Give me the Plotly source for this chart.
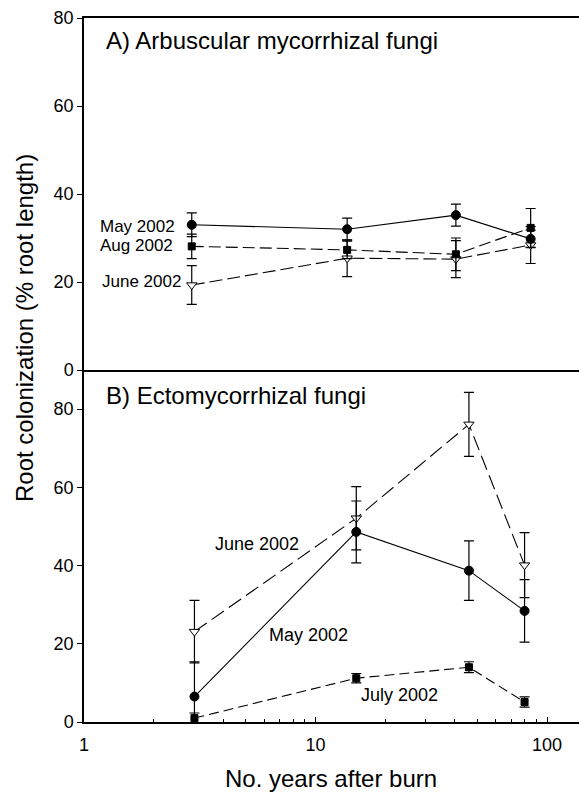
import plotly.graph_objects as go
from plotly.subplots import make_subplots

# ---- data ----
years_A = [2.92, 13.7, 40.4, 85]
may_A = [33.0, 32.0, 35.2, 29.8]
may_A_err = [2.7, 2.5, 2.5, 2.0]
aug_A = [28.1, 27.3, 26.3, 32.3]
aug_A_err = [2.8, 2.0, 3.7, 4.4]
june_A = [19.3, 25.4, 25.2, 28.4]
june_A_err = [4.4, 4.2, 4.2, 4.2]

years_B = [3, 15, 46, 80]
june_B = [23.1, 52.1, 76.1, 40.1]
june_B_err = [8.0, 8.1, 8.2, 8.3]
may_B = [6.5, 48.6, 38.7, 28.4]
may_B_err = [8.9, 7.9, 7.6, 8.0]
july_B = [1.0, 11.2, 14.0, 5.1]
july_B_err = [1.3, 1.2, 1.4, 1.3]

y_ticks = [0, 20, 40, 60, 80]
x_ticks = [1, 10, 100]
x_minor = [2, 3, 4, 5, 6, 7, 8, 9, 20, 30, 40, 50, 60, 70, 80, 90]

FONT = "Liberation Sans, Arial, Helvetica, sans-serif"
W, H = 579, 793
ML, MR, MT, MB = 84, 0, 18, 71

fig = make_subplots(rows=2, cols=1, vertical_spacing=0.0, shared_xaxes=False)


def add_series(x, y, err, row, symbol, fill, dash, size):
    fig.add_trace(go.Scatter(
        x=x, y=y, mode="lines+markers",
        line=dict(color="black", width=1.1, dash=dash),
        marker=dict(symbol=symbol, size=size, color=fill,
                    line=dict(color="black", width=1)),
        error_y=dict(type="data", array=err, visible=True,
                     color="black", thickness=1.2, width=5),
        showlegend=False, hoverinfo="skip",
    ), row=row, col=1)


add_series(years_A, june_A, june_A_err, 1, "triangle-down", "white", "13px,5px", 9)
add_series(years_A, aug_A, aug_A_err, 1, "square", "black", "12px,5px", 7)
add_series(years_A, may_A, may_A_err, 1, "circle", "black", "solid", 9)

add_series(years_B, june_B, june_B_err, 2, "triangle-down", "white", "15px,6px", 9)
add_series(years_B, july_B, july_B_err, 2, "square", "black", "10px,5px", 7)
add_series(years_B, may_B, may_B_err, 2, "circle", "black", "solid", 9)

xrange = [0, (W - ML) / 231.5]

fig.update_xaxes(type="log", range=xrange, showgrid=False, zeroline=False,
                 showline=True, linecolor="black", linewidth=1.5)
fig.update_xaxes(row=1, col=1, showticklabels=False, ticks="", mirror=True)
fig.update_xaxes(row=2, col=1, tickmode="array", tickvals=x_ticks,
                 ticktext=[str(v) for v in x_ticks], ticks="inside",
                 ticklen=5, tickwidth=1, tickcolor="black",
                 ticklabelstandoff=6,
                 minor=dict(tickmode="array", tickvals=x_minor, ticks="inside",
                            ticklen=3, tickwidth=1, tickcolor="black"),
                 tickfont=dict(family=FONT, size=18, color="black"))

fig.update_yaxes(showgrid=False, zeroline=False, showline=True,
                 linecolor="black", linewidth=1.5, ticks="outside",
                 ticklen=5, tickwidth=1, tickcolor="black",
                 tickmode="array", tickvals=y_ticks,
                 tickfont=dict(family=FONT, size=18, color="black"))
fig.update_yaxes(row=1, col=1, range=[0, 80])
fig.update_yaxes(row=2, col=1, range=[0, 90])

fig.update_layout(
    width=W, height=H,
    margin=dict(l=ML, r=MR, t=MT, b=MB, autoexpand=False),
    paper_bgcolor="white", plot_bgcolor="white",
    font=dict(family=FONT, color="black"),
    hovermode=False,
)
fig.update_layout(yaxis=dict(domain=[0.5, 1.0]), yaxis2=dict(domain=[0.0, 0.5]))

anns = [
    # panel titles
    dict(text="A) Arbuscular mycorrhizal fungi", xref="x", yref="y",
         x=0.087, y=75, xanchor="left", yanchor="middle", size=24),
    dict(text="B) Ectomycorrhizal fungi", xref="x2", yref="y2",
         x=0.087, y=83.6, xanchor="left", yanchor="middle", size=24),
    # series labels, panel A
    dict(text="May 2002", xref="x", yref="y", x=0.400, y=32.7,
         xanchor="right", yanchor="middle", size=17),
    dict(text="Aug 2002", xref="x", yref="y", x=0.393, y=28.25,
         xanchor="right", yanchor="middle", size=17),
    dict(text="June 2002", xref="x", yref="y", x=0.426, y=20.1,
         xanchor="right", yanchor="middle", size=17),
    # series labels, panel B
    dict(text="June 2002", xref="x2", yref="y2", x=0.749, y=45.5,
         xanchor="center", yanchor="middle", size=18),
    dict(text="May 2002", xref="x2", yref="y2", x=0.971, y=22.3,
         xanchor="center", yanchor="middle", size=18),
    dict(text="July 2002", xref="x2", yref="y2", x=1.363, y=7.0,
         xanchor="center", yanchor="middle", size=18),
]
plot_w = W - ML - MR
plot_h = H - MT - MB
for a in anns:
    size = a.pop("size")
    fig.add_annotation(**a, showarrow=False,
                       font=dict(family=FONT, size=size, color="black"))

# axis titles
fig.add_annotation(text="Root colonization (% root length)", xref="paper", yref="paper",
                   x=(24 - ML) / plot_w, y=(H - MB - 328) / plot_h,
                   xanchor="center", yanchor="middle", textangle=-90,
                   showarrow=False, font=dict(family=FONT, size=24, color="black"))
fig.add_annotation(text="No. years after burn", xref="paper", yref="paper",
                   x=(331 - ML) / plot_w, y=(H - MB - 778) / plot_h,
                   xanchor="center", yanchor="middle",
                   showarrow=False, font=dict(family=FONT, size=24, color="black"))

fig.write_html("out.html", config={"displayModeBar": False},
               post_script="document.body.style.margin='0';document.body.style.overflow='hidden';")
